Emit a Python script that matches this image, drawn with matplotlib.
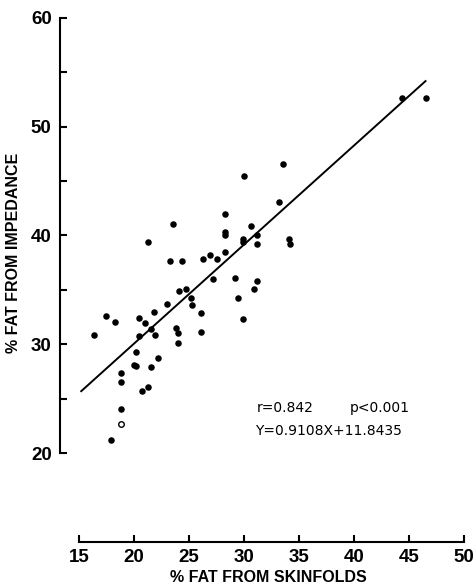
import matplotlib
matplotlib.use("Agg")
import matplotlib.pyplot as plt
import numpy as np

# Data
skinfold = [16.36, 17.48, 18.30, 17.88, 18.79, 18.79, 18.79, 20.0, 20.18, 20.18,
            20.45, 20.45, 20.70, 21.25, 21.03, 21.30, 21.55, 21.57, 21.88, 21.85,
            22.15, 22.97, 23.27, 23.52, 23.79, 24.03, 24.03, 24.06, 24.36, 24.70,
            25.18, 25.25, 26.06, 26.09, 26.27, 26.88, 27.21, 27.52, 28.27, 28.27,
            28.27, 28.30, 29.20, 29.48, 29.91, 29.95, 29.95, 30.59, 30.88, 31.16,
            31.16, 31.18, 30.03, 33.21, 33.55, 34.12, 34.15, 44.39, 46.52]
impedance = [30.82, 32.62, 32.04, 21.17, 24.07, 26.55, 27.38, 28.09, 28.02, 29.28,
             30.75, 32.44, 25.73, 26.04, 31.92, 39.37, 31.40, 27.90, 30.85, 32.99,
             28.73, 33.67, 37.65, 41.05, 31.52, 31.06, 30.11, 34.86, 37.65, 35.10,
             34.25, 33.60, 32.87, 31.09, 37.80, 38.17, 36.04, 37.85, 41.97, 40.36,
             40.02, 38.47, 36.11, 34.26, 39.70, 39.40, 32.36, 40.91, 35.12, 40.05,
             39.26, 35.81, 45.43, 43.10, 46.59, 39.67, 39.18, 52.66, 52.60]
open_x = [18.79]
open_y = [22.69]

slope = 0.9108
intercept = 11.8435
fit_range = [15.2, 46.5]

x_ticks = [15, 20, 25, 30, 35, 40, 45, 50]
y_ticks = [20, 30, 40, 50, 60]
y_minor = [25, 35, 45, 55]

FONT = ['Liberation Sans', 'DejaVu Sans']

fig = plt.figure(figsize=(4.76, 5.86), dpi=100)
ax = fig.add_axes([60/476, 44/586, 406/476, 526/586])
ax.set_xlim(13.27, 50.18)
ax.set_ylim(11.82, 60.18)

ax.scatter(skinfold, impedance, s=22, color='black', zorder=3, linewidths=0)
ax.scatter(open_x, open_y, s=16, facecolors='white', edgecolors='black', linewidths=1.0, zorder=3)

fx = np.array(fit_range)
ax.plot(fx, slope * fx + intercept, color='black', lw=1.4, zorder=2)

for s in ['top', 'right']:
    ax.spines[s].set_visible(False)
ax.spines['left'].set_bounds(20, 60)
ax.spines['bottom'].set_bounds(15, 50)
for s in ['left', 'bottom']:
    ax.spines[s].set_linewidth(1.5)

ax.set_xticks(x_ticks)
ax.set_yticks(y_ticks)
ax.set_yticks(y_minor, minor=True)
ax.tick_params(axis='y', which='both', direction='in', length=5, width=1.5, pad=6)
ax.tick_params(axis='x', which='both', direction='in', length=5, width=1.5, pad=5)
ax.set_xticklabels([str(v) for v in x_ticks], fontsize=13.5, fontweight='bold', family=FONT)
ax.set_yticklabels([str(v) for v in y_ticks], fontsize=13.5, fontweight='bold', family=FONT)

fig.text(268/476, 1 - 577/586, '% FAT FROM SKINFOLDS', ha='center', va='center',
         fontsize=11.5, fontweight='bold', family=FONT)
fig.text(14/476, 1 - 253/586, '% FAT FROM IMPEDANCE', ha='center', va='center',
         rotation=90, fontsize=11.5, fontweight='bold', family=FONT)

fig.text(257/476, 1 - 408/586, 'r=0.842', ha='left', va='center', fontsize=10, family=['DejaVu Sans'])
fig.text(350/476, 1 - 408/586, 'p<0.001', ha='left', va='center', fontsize=10, family=['DejaVu Sans'])
fig.text(255/476, 1 - 431/586, 'Y=0.9108X+11.8435', ha='left', va='center', fontsize=10, family=['DejaVu Sans'])

fig.savefig('out.png', dpi=100)
